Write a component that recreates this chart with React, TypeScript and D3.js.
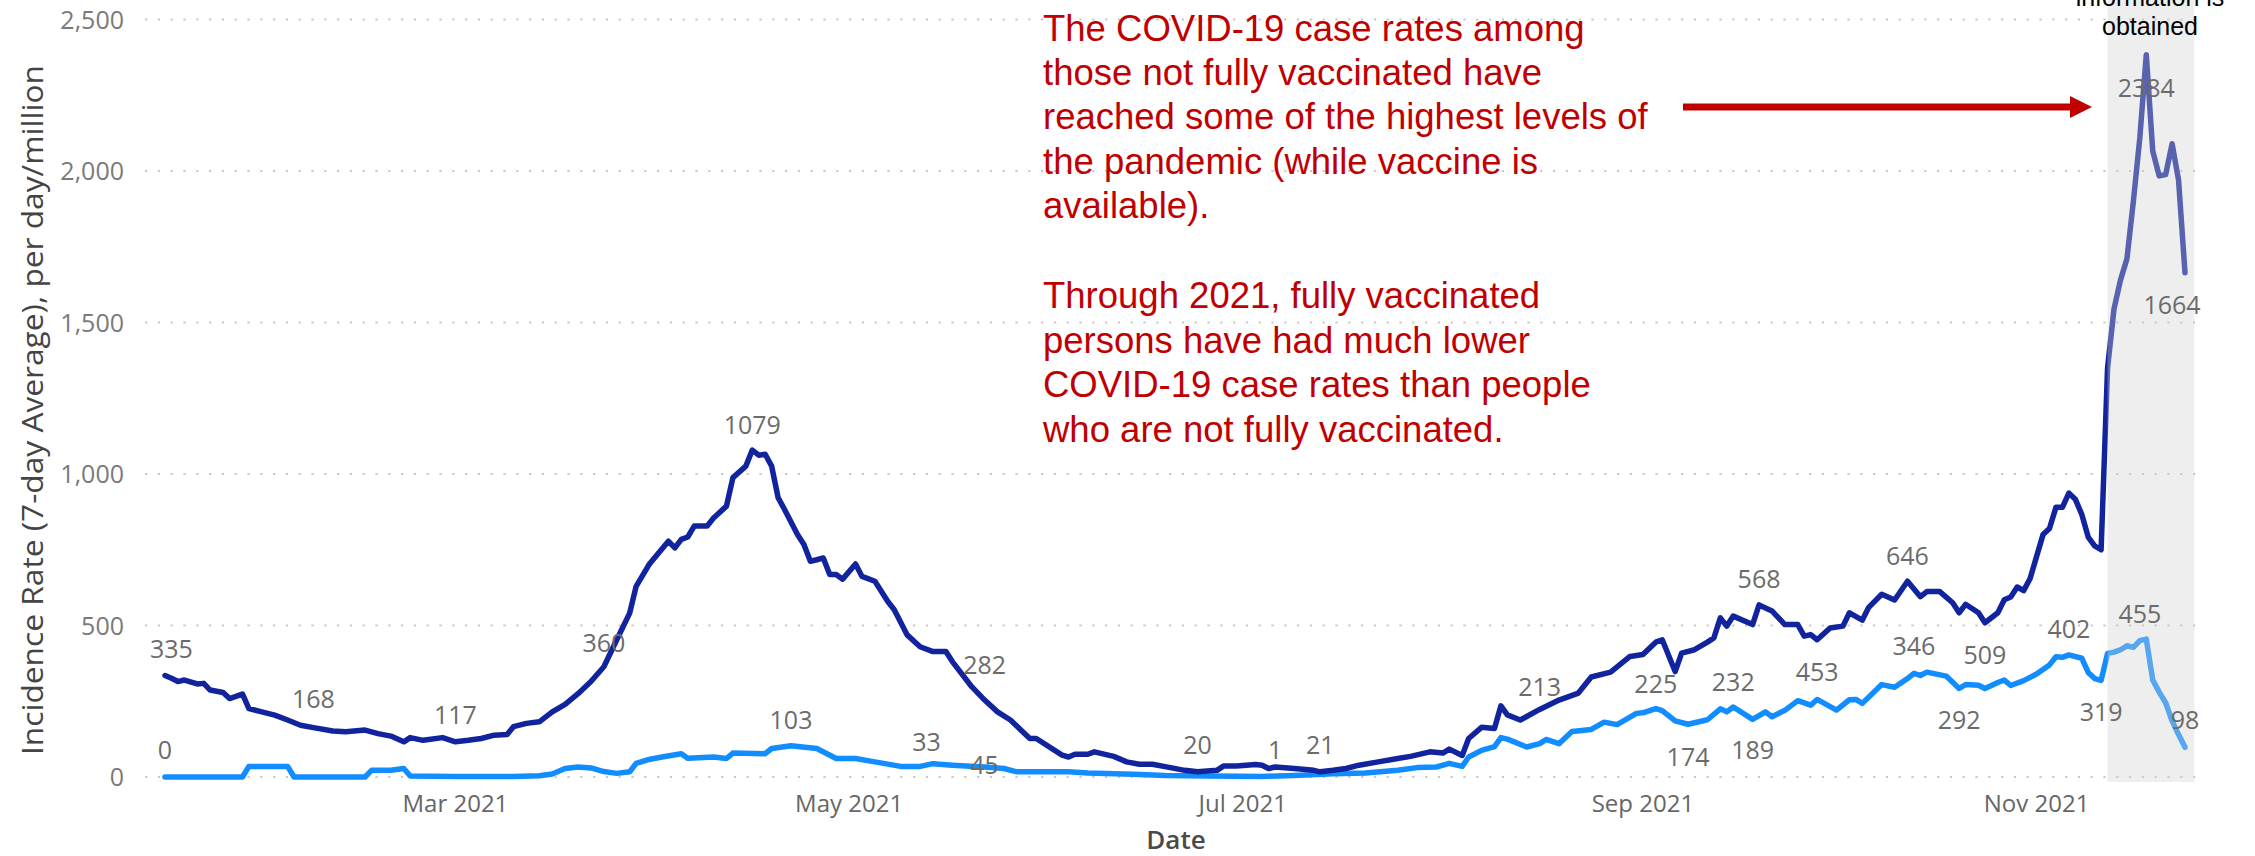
import * as d3 from 'd3';

// ---- data ----
const notVaxDates = [
  '1/15', '1/16', '1/17', '1/18', '1/20', '1/21', '1/22', '1/24', '1/25', '1/26', '1/27', '1/28', '1/30',
  '2/1', '2/3', '2/5', '2/7', '2/10', '2/12', '2/15', '2/17', '2/19', '2/21', '2/22', '2/24', '2/27',
  '3/1', '3/3', '3/5', '3/7', '3/9', '3/10', '3/12', '3/14', '3/16', '3/18', '3/20', '3/22', '3/24', '3/26', '3/28', '3/29', '3/31',
  '4/3', '4/4', '4/5', '4/6', '4/7', '4/9', '4/10', '4/12', '4/13', '4/15', '4/16', '4/17', '4/18', '4/19', '4/20', '4/21', '4/23', '4/24', '4/25', '4/26', '4/27', '4/28', '4/29', '4/30',
  '5/2', '5/3', '5/5', '5/7', '5/8', '5/10', '5/12', '5/14', '5/16', '5/17', '5/20', '5/22', '5/24', '5/26', '5/29', '5/30',
  '6/3', '6/4', '6/5', '6/7', '6/8', '6/11', '6/13', '6/15', '6/17', '6/20', '6/22', '6/24', '6/27', '6/28', '6/30',
  '7/3', '7/4', '7/5', '7/6', '7/9', '7/12', '7/13', '7/15', '7/17', '7/19', '7/22', '7/25', '7/27', '7/30',
  '8/1', '8/2', '8/4', '8/5', '8/7', '8/9', '8/10', '8/11', '8/13', '8/16', '8/19', '8/22', '8/24', '8/27', '8/30',
  '9/1', '9/3', '9/4', '9/6', '9/7', '9/9', '9/11', '9/12', '9/13', '9/14', '9/15', '9/18', '9/19', '9/21', '9/23', '9/25', '9/26', '9/27', '9/28', '9/30',
  '10/2', '10/3', '10/5', '10/6', '10/8', '10/10', '10/12', '10/14', '10/15', '10/17', '10/19', '10/20', '10/21', '10/23', '10/24', '10/26', '10/27', '10/28', '10/29', '10/30', '10/31',
  '11/2', '11/3', '11/4', '11/5', '11/6', '11/7', '11/8', '11/9', '11/10', '11/11', '11/12', '11/13', '11/14', '11/15', '11/16', '11/17', '11/18', '11/19', '11/20', '11/21', '11/22', '11/23', '11/24',
];
const notVaxValues = [
  335, 326, 315, 320, 307, 309, 287, 279, 259, 266, 274, 226, 215,
  204, 188, 171, 163, 152, 149, 155, 143, 135, 116, 130, 121, 130,
  116, 121, 127, 138, 140, 166, 177, 182, 215, 240, 275, 315, 364, 453, 541, 629, 701,
  778, 756, 784, 792, 828, 828, 855, 894, 988, 1026, 1079, 1062, 1065, 1026, 922, 883, 800, 767, 712, 717, 723, 668, 668, 653,
  703, 662, 646, 579, 552, 469, 430, 414, 414, 381, 298, 254, 215, 188, 127, 127,
  72, 66, 75, 75, 83, 68, 50, 42, 42, 30, 22, 17, 22, 36, 36,
  41, 39, 28, 33, 28, 22, 17, 22, 28, 39, 50, 61, 68, 83,
  79, 92, 71, 127, 164, 160, 235, 205, 188, 223, 254, 277, 330, 346, 398,
  404, 445, 453, 348, 409, 420, 445, 459, 525, 498, 531, 503, 568, 548, 503, 503, 465, 470, 453, 492,
  498, 542, 518, 560, 603, 584, 646, 595, 612, 612, 575, 542, 570, 542, 509, 542, 585, 594, 627, 615, 655,
  800, 820, 890, 890, 937, 917, 867, 792, 763, 750, 1350, 1545, 1640, 1710, 1900, 2110, 2384, 2066, 1984, 1988, 2090, 1970, 1664,
];

const vaxDates = [
  '1/15', '1/27', '1/28', '2/3', '2/4', '2/15', '2/16', '2/19', '2/21', '2/22',
  '3/1', '3/10', '3/14', '3/16', '3/18', '3/20', '3/22', '3/24', '3/26', '3/28', '3/29', '3/31',
  '4/2', '4/5', '4/6', '4/10', '4/12', '4/13', '4/18', '4/19', '4/22', '4/26', '4/29',
  '5/2', '5/5', '5/9', '5/12', '5/14', '5/17', '5/22', '5/25', '5/27',
  '6/4', '6/7', '6/14', '6/19', '6/26',
  '7/4', '7/9', '7/15', '7/20', '7/25', '7/28', '7/31',
  '8/2', '8/4', '8/5', '8/7', '8/9', '8/10', '8/11', '8/14', '8/16', '8/17', '8/19', '8/21', '8/24', '8/26', '8/28', '8/31',
  '9/1', '9/3', '9/4', '9/6', '9/8', '9/11', '9/13', '9/14', '9/15', '9/18', '9/20', '9/21', '9/23', '9/25', '9/27', '9/28',
  '10/1', '10/3', '10/4', '10/5', '10/8', '10/10', '10/12', '10/13', '10/14', '10/15', '10/18', '10/20', '10/21', '10/23', '10/24', '10/26', '10/27', '10/28', '10/30',
  '11/1', '11/3', '11/4', '11/5', '11/6', '11/8', '11/9', '11/10', '11/11', '11/12', '11/13', '11/14', '11/15', '11/16', '11/17', '11/18', '11/19', '11/20', '11/21', '11/22', '11/23', '11/24',
];
const vaxValues = [
  0, 0, 35, 35, 0, 0, 22, 22, 28, 3,
  2, 2, 4, 10, 28, 33, 30, 18, 12, 17, 45, 58,
  66, 77, 62, 66, 61, 79, 77, 94, 103, 94, 61,
  61, 50, 35, 35, 44, 39, 33, 28, 17,
  17, 13, 9, 5, 3,
  2, 5, 11, 13, 22, 31, 33,
  45, 35, 66, 88, 100, 130, 125, 99, 110, 124, 110, 150, 157, 181, 173, 210,
  212, 226, 219, 185, 174, 189, 225, 215, 231, 190, 215, 199, 220, 252, 237, 256,
  221, 255, 256, 243, 305, 296, 325, 342, 335, 346, 333, 292, 305, 303, 292, 312, 320, 302, 318,
  340, 370, 397, 395, 403, 392, 345, 325, 319, 408, 412, 420, 433, 428, 450, 455, 320, 280, 245, 185, 140, 98,
];

// data labels as shown by the report: text, date, vertical level (in data units)
const notVaxLabelText = ['335', '168', '117', '360', '1079', '282', '20', '1', '21', '213', '568', '646', '2384', '1664'];
const notVaxLabelDate = ['1/16', '2/7', '3/1', '3/24', '4/16', '5/22', '6/24', '7/6', '7/13', '8/16', '9/19', '10/12', '11/18', '11/22'];
const notVaxLabelLevel = [423, 256, 203, 443, 1163, 368, 104, 88, 104, 296, 653, 730, 2274, 1559];

const vaxLabelText = ['0', '103', '33', '45', '225', '174', '232', '189', '453', '346', '292', '509', '402', '319', '455', '98'];
const vaxLabelDate = ['1/15', '4/22', '5/13', '5/22', '9/3', '9/8', '9/15', '9/18', '9/28', '10/13', '10/20', '10/24', '11/6', '11/11', '11/17', '11/24'];
const vaxLabelLevel = [88, 187, 117, 38, 308, 65, 312, 88, 345, 433, 187, 403, 489, 213, 538, 187];

const yTicks = [0, 500, 1000, 1500, 2000, 2500];
const shadeFrom = '11/12';
const shadeTo = '11/25';

const noteLines1 = [
  'The COVID-19 case rates among',
  'those not fully vaccinated have',
  'reached some of the highest levels of',
  'the pandemic (while vaccine is',
  'available).',
];
const noteLines2 = [
  'Through 2021, fully vaccinated',
  'persons have had much lower',
  'COVID-19 case rates than people',
  'who are not fully vaccinated.',
];
const shadeNote = ['information is', 'obtained'];

const W = 2255;
const H = 856;
const plotLeft = 145;
const plotRight = 2196;

const parse = d3.timeParse('%m/%d/%Y');
const toDate = (s: string) => parse(`${s}/2021`) as Date;

const DARK = '#12239E';
const LIGHT = '#118DFF';
const RED = '#C00000';
const UI_FONT = '"Open Sans", "Noto Sans", sans-serif';
const NOTE_FONT = '"Liberation Sans", Arial, sans-serif';

export default function App() {
  const x = d3.scaleTime()
    .domain([toDate('1/15'), toDate('11/24')])
    .range([165, 2185]);
  const y = d3.scaleLinear().domain([0, 2500]).range([777, 19.5]);

  const line = d3.line<[Date, number]>()
    .x(d => x(d[0]))
    .y(d => y(d[1]));

  const notVax: [Date, number][] = notVaxDates.map((d, i) => [toDate(d), notVaxValues[i]]);
  const vax: [Date, number][] = vaxDates.map((d, i) => [toDate(d), vaxValues[i]]);

  const xTicks = x.ticks(d3.timeMonth.every(2) as d3.TimeInterval);
  const fmtX = d3.timeFormat('%b %Y');
  const fmtY = d3.format(',');

  const labels = [
    ...notVaxLabelText.map((t, i) => ({t, d: notVaxLabelDate[i], v: notVaxLabelLevel[i]})),
    ...vaxLabelText.map((t, i) => ({t, d: vaxLabelDate[i], v: vaxLabelLevel[i]})),
  ];

  const sx0 = x(toDate(shadeFrom));
  const sx1 = x(toDate(shadeTo));

  return (
    <svg width={W} height={H} style={{position: 'absolute', left: 0, top: 0, background: '#fff'}}>
      {/* gridlines */}
      {yTicks.map(t => (
        <line key={t} x1={plotLeft} x2={plotRight} y1={y(t)} y2={y(t)}
              stroke="#c8c8c8" strokeWidth={2.2} strokeDasharray="2.2 10.6" />
      ))}
      {/* y tick labels */}
      {yTicks.map(t => (
        <text key={'yl' + t} x={124} y={y(t)} dy="0.36em" textAnchor="end"
              fontFamily={UI_FONT} fontSize={25} fill="#7a7a7a">{fmtY(t)}</text>
      ))}
      {/* x tick labels */}
      {xTicks.map(t => (
        <text key={'xl' + t.getTime()} x={x(t)} y={803} dy="0.36em" textAnchor="middle"
              fontFamily={UI_FONT} fontSize={24} fill="#666">{fmtX(t)}</text>
      ))}
      {/* axis titles */}
      <text x={1176} y={840} dy="0.34em" textAnchor="middle" fontFamily={UI_FONT}
            fontSize={26} fontWeight={600} fill="#4a4a4a">Date</text>
      <text transform="translate(33,410) rotate(-90)" dy="0.36em" textAnchor="middle"
            fontFamily={UI_FONT} fontSize={29} fill="#444" textLength={690}
            lengthAdjust="spacingAndGlyphs">
        Incidence Rate (7-day Average), per day/million
      </text>

      {/* series */}
      <path d={line(vax) ?? ''} fill="none" stroke={LIGHT} strokeWidth={5.5}
            strokeLinejoin="round" strokeLinecap="round" />
      <path d={line(notVax) ?? ''} fill="none" stroke={DARK} strokeWidth={5.5}
            strokeLinejoin="round" strokeLinecap="round" />

      {/* shaded period */}
      <rect x={sx0} y={0} width={sx1 - sx0 + 3} height={782} fill="rgb(209,209,209)" fillOpacity={0.37} />

      {/* data labels */}
      {labels.map((l, i) => (
        <text key={'dl' + i} x={x(toDate(l.d))} y={y(l.v)} dy="0.36em" textAnchor="middle"
              fontFamily={UI_FONT} fontSize={25} fill="#6b6b6b">{l.t}</text>
      ))}

      {/* shaded-period note */}
      {shadeNote.map((s, i) => (
        <text key={'sn' + i} x={2150} y={6 + i * 29} textAnchor="middle"
              fontFamily={NOTE_FONT} fontSize={25} fill="#000">{s}</text>
      ))}

      {/* red annotation */}
      {noteLines1.map((s, i) => (
        <text key={'n1' + i} x={1043} y={40.7 + i * 44.3} fontFamily={NOTE_FONT}
              fontSize={36.5} fill={RED}>{s}</text>
      ))}
      {noteLines2.map((s, i) => (
        <text key={'n2' + i} x={1043} y={308 + i * 44.6} fontFamily={NOTE_FONT}
              fontSize={36.5} fill={RED}>{s}</text>
      ))}
      <line x1={1683} x2={2072} y1={107} y2={107} stroke={RED} strokeWidth={7} />
      <polygon points="2070,96 2092,107 2070,118" fill={RED} />
    </svg>
  );
}
